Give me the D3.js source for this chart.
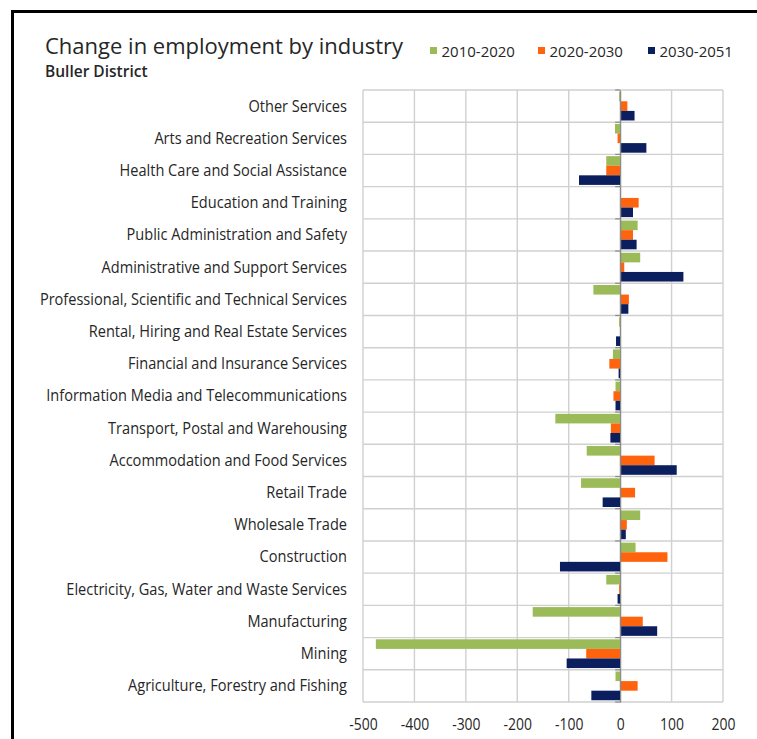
<!DOCTYPE html>
<html>
<head>
<meta charset="utf-8">
<script src="https://cdn.jsdelivr.net/npm/d3@7"></script>
<style>
  body { margin: 0; background: #fff; }
  text { font-family: "Open Sans", "Noto Sans", sans-serif; fill: #262626; }
</style>
</head>
<body>
<svg id="chart" width="757" height="739"></svg>
<script>
// Industries, listed top to bottom
const industries = [
  "Other Services",
  "Arts and Recreation Services",
  "Health Care and Social Assistance",
  "Education and Training",
  "Public Administration and Safety",
  "Administrative and Support Services",
  "Professional, Scientific and Technical Services",
  "Rental, Hiring and Real Estate Services",
  "Financial and Insurance Services",
  "Information Media and Telecommunications",
  "Transport, Postal and Warehousing",
  "Accommodation and Food Services",
  "Retail Trade",
  "Wholesale Trade",
  "Construction",
  "Electricity, Gas, Water and Waste Services",
  "Manufacturing",
  "Mining",
  "Agriculture, Forestry and Fishing"
];

const periods = ["2010-2020", "2020-2030", "2030-2051"];

// Change in number employed, per industry (same order as above)
const change2010to2020 = [-2, -10, -27, 1, 34, 39, -52, -2, -14, -9, -126, -65, -76, 39, 30, -27, -170, -475, -9];
const change2020to2030 = [14, -5, -27, 36, 25, 8, 17, 1, -21, -13, -18, 67, 29, 13, 92, -2, 44, -66, 34];
const change2030to2051 = [28, 51, -80, 25, 32, 123, 16, -8, -3, -9, -19, 110, -34, 11, -117, -5, 72, -104, -56];

const xTickValues = [-500, -400, -300, -200, -100, 0, 100, 200];
const periodColors = ["#9BBB59", "#FF630D", "#0B1F5E"];

const seriesValues = [change2010to2020, change2020to2030, change2030to2051];
const rows = industries.map((name, i) => ({
  name,
  values: periods.map((p, k) => ({ period: p, value: seriesValues[k][i] }))
}));

const svg = d3.select("#chart");
const labelSqueeze = 0.94; // category labels are set slightly narrow
const tickSqueeze = 0.9;

// Outer frame
svg.append("rect")
  .attr("x", 12.5).attr("y", 11.5)
  .attr("width", 900).attr("height", 900)
  .attr("fill", "none").attr("stroke", "#000").attr("stroke-width", 3);

const plot = { left: 363, right: 723, top: 90, bottom: 702 };

const x = d3.scaleLinear().domain([-500, 200]).range([plot.left, plot.right]);
const y = d3.scaleBand().domain(industries).range([plot.top, plot.bottom]).padding(0);
const yInner = d3.scaleBand().domain(periods).range([0, y.bandwidth()])
  .paddingInner(0).paddingOuter(0.18);
const color = d3.scaleOrdinal().domain(periods).range(periodColors);

// Vertical gridlines
svg.append("g")
  .selectAll("line")
  .data(xTickValues)
  .join("line")
  .attr("x1", d => x(d)).attr("x2", d => x(d))
  .attr("y1", plot.top).attr("y2", plot.bottom)
  .attr("stroke", "#d0d0d0").attr("stroke-width", 1.4);

// Horizontal gridlines at category boundaries
const boundaries = industries.map(d => y(d)).concat([plot.bottom]);
svg.append("g")
  .selectAll("line")
  .data(boundaries)
  .join("line")
  .attr("x1", plot.left).attr("x2", plot.right)
  .attr("y1", d => d).attr("y2", d => d)
  .attr("stroke", "#d0d0d0").attr("stroke-width", 1.4);

// Bars
const groups = svg.append("g")
  .selectAll("g")
  .data(rows)
  .join("g")
  .attr("transform", d => `translate(0,${y(d.name)})`);

groups.selectAll("rect")
  .data(d => d.values)
  .join("rect")
  .attr("x", d => x(Math.min(0, d.value)))
  .attr("width", d => Math.abs(x(d.value) - x(0)))
  .attr("y", d => yInner(d.period))
  .attr("height", yInner.bandwidth())
  .attr("fill", d => color(d.period));

// Category axis at zero, ticks pointing left
const yAxis = d3.axisLeft(y).tickSize(0).tickFormat("");
svg.append("g")
  .attr("transform", `translate(${x(0)},0)`)
  .call(yAxis)
  .call(g => g.select(".domain").attr("stroke", "#8a8a8a").attr("stroke-width", 1.2));
svg.append("g")
  .selectAll("line")
  .data(boundaries)
  .join("line")
  .attr("x1", x(0) - 5).attr("x2", x(0))
  .attr("y1", d => d).attr("y2", d => d)
  .attr("stroke", "#8a8a8a").attr("stroke-width", 1.2);

// Category labels
svg.append("g")
  .selectAll("text")
  .data(industries)
  .join("text")
  .attr("transform", d => `translate(347,${y(d) + y.bandwidth() / 2}) scale(${labelSqueeze},1)`)
  .attr("text-anchor", "end")
  .attr("dy", "0.35em")
  .attr("font-size", 15.5)
  .text(d => d);

// Value axis labels
const xAxis = d3.axisBottom(x).tickValues(xTickValues).tickSize(0).tickPadding(0)
  .tickFormat(d => String(d));
const xg = svg.append("g")
  .attr("transform", `translate(0,${plot.bottom})`)
  .call(xAxis);
xg.select(".domain").remove();
xg.selectAll("text")
  .attr("y", 0)
  .attr("dy", 0)
  .attr("transform", `translate(0,27.5) scale(${tickSqueeze},1)`)
  .attr("font-size", 15.5)
  .attr("font-family", "\"Open Sans\", sans-serif")
  .attr("fill", "#262626");

// Title and subtitle
svg.append("text")
  .attr("x", 45).attr("y", 54)
  .attr("font-size", 22)
  .text("Change in employment by industry");
svg.append("text")
  .attr("x", 45).attr("y", 77)
  .attr("font-size", 15.5)
  .attr("font-weight", 600)
  .attr("fill", "#333")
  .text("Buller District");

// Legend
const legendX = [430, 538, 648];
const legend = svg.append("g")
  .selectAll("g")
  .data(periods)
  .join("g")
  .attr("transform", (d, i) => `translate(${legendX[i]},0)`);
legend.append("rect")
  .attr("x", 0).attr("y", 47)
  .attr("width", 7).attr("height", 7)
  .attr("fill", d => color(d));
legend.append("text")
  .attr("x", 11.5).attr("y", 56.5)
  .attr("font-size", 15)
  .text(d => d);
</script>
</body>
</html>
